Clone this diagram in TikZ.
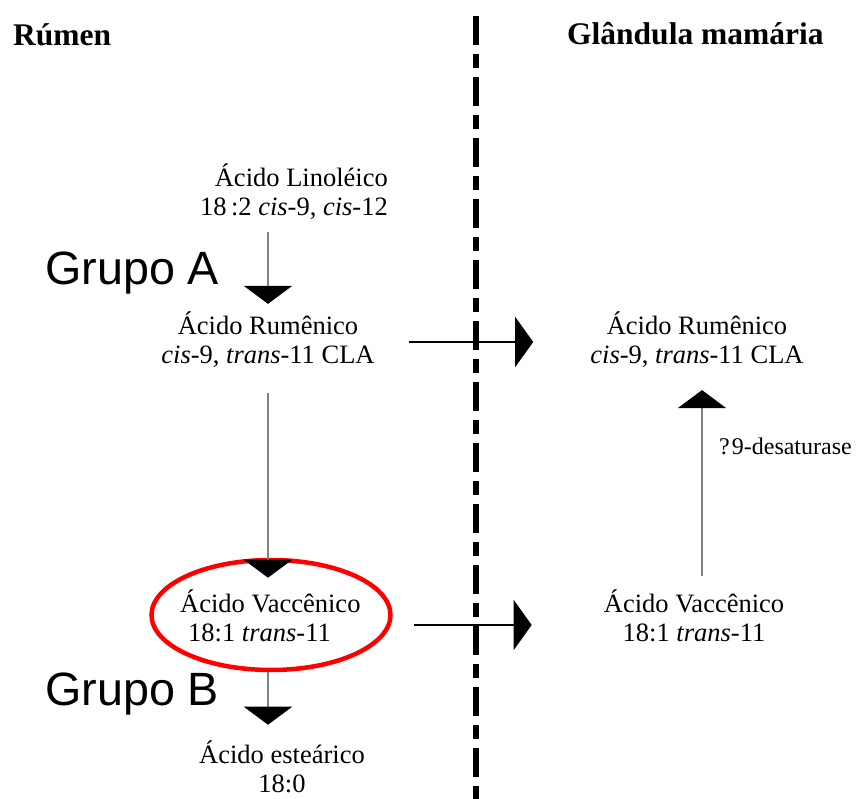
\documentclass[tikz,border=0pt]{standalone}
\usepackage{fontspec}
\setmainfont{Liberation Serif}
\newfontfamily\arialfont{Liberation Sans}
\usetikzlibrary{arrows.meta,shapes.geometric}
\begin{document}
\begin{tikzpicture}[x=1pt,y=-1pt,
  txt/.style={font=\fontsize{26.5}{29}\selectfont, inner sep=0pt, align=center},
  smalltxt/.style={font=\fontsize{24}{26}\selectfont, inner sep=0pt},
  hdr/.style={font=\fontsize{31.5}{34}\selectfont\bfseries, inner sep=0pt},
  grp/.style={font=\arialfont\fontsize{46.7}{50}\selectfont, inner sep=0pt},
  varrow/.style={draw=black!50, line width=2pt, -{Triangle[width=48pt,length=18pt,color=black,fill=black]}},
  harrow/.style={draw=black, line width=2pt, -{Triangle[width=50pt,length=18pt,color=black,fill=black]}},
  divider/.style={line width=6pt, dash pattern=on 29pt off 9pt on 14pt off 9pt},
]
\useasboundingbox (0,0) rectangle (860,799);
% divider
\coordinate (dtop) at (476,16);
\coordinate (dbot) at (476,800);
\draw[divider] (dtop) -- (dbot);
% headers
\node[hdr, anchor=base west] (rumen) at (13,46) {Rúmen};
\node[hdr, anchor=base west] (glan) at (567,45) {Glândula mamária};
% nodes
\node[txt, anchor=east, align=right] (lin) at (388,192) {Ácido Linoléico\\18\,:2 \textit{cis}-9, \textit{cis}-12};
\node[txt] (rumL) at (268,340) {Ácido Rumênico\\\textit{cis}-9, \textit{trans}-11 CLA};
\node[txt] (rumR) at (697,340) {Ácido Rumênico\\\textit{cis}-9, \textit{trans}-11 CLA};
\node[txt, anchor=west, align=left] (vacL) at (180,616) {Ácido Vaccênico\\\hspace*{8pt}18:1 \textit{trans}-11};
\node[txt] (vacR) at (694,616) {Ácido Vaccênico\\18:1 \textit{trans}-11};
\node[txt] (est) at (282,767) {Ácido esteárico\\18:0};
\node[grp, anchor=base west] (grpA) at (45,285) {Grupo A};
\node[grp, anchor=base west] (grpB) at (45,705) {Grupo B};
\node[smalltxt, anchor=base west] (des) at (719,455) {?\kern2pt 9-desaturase};
\node[draw=red, line width=4.5pt, ellipse, minimum width=239pt, minimum height=110pt, inner sep=0pt] (ell) at (271,615) {};
% arrows
\draw[varrow, shorten <=12pt, shorten >=8pt] (lin.south -| rumL.north) -- (rumL.north);
\draw[varrow, shorten <=25pt, shorten >=12pt] (rumL.south) -- (rumL.south |- vacL.north);
\draw[varrow, shorten >=16pt] (ell.south -| rumL.south) -- (rumL.south |- est.north);
\draw[harrow, shorten <=34pt, shorten >=57pt] ([yshift=-2pt]rumL.east) -- ([yshift=-2pt]rumR.west);
\draw[harrow, shorten <=21pt, shorten >=72pt] ([yshift=-10pt]ell.east) -- ([yshift=-9pt]vacR.west);
\draw[varrow, shorten <=14pt, shorten >=22pt] ([xshift=8pt]vacR.north) -- ([xshift=5pt]rumR.south);
\end{tikzpicture}
\end{document}
